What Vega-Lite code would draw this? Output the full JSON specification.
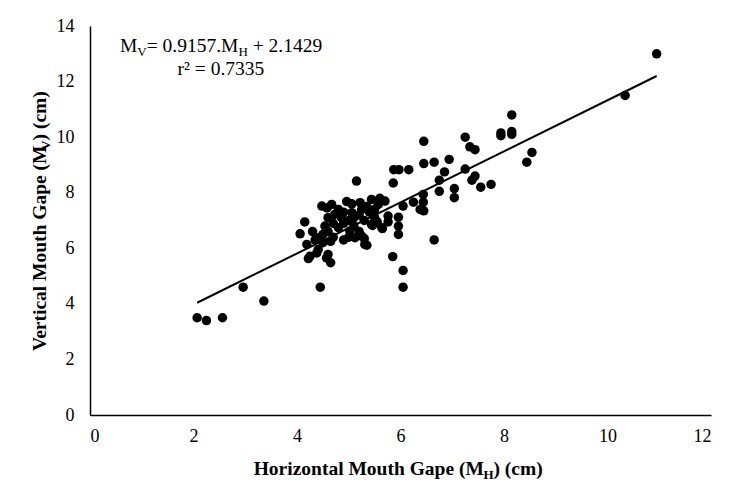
{
  "$schema": "https://vega.github.io/schema/vega-lite/v6.json",
  "width": 621,
  "height": 389,
  "autosize": {"type": "none"},
  "padding": {"left": 90, "top": 26, "right": 21, "bottom": 80},
  "background": "white",
  "config": {
    "view": {"stroke": null},
    "style": {"guide-label": {"font": "Liberation Serif", "fontSize": 18, "fill": "black"}},
    "axis": {
      "domainColor": "black",
      "domainWidth": 1.5,
      "ticks": false,
      "grid": false,
      "labelFont": "Liberation Serif",
      "labelFontSize": 18,
      "labelColor": "black",
      "title": null
    }
  },
  "datasets": {
    "points": [
      {"MH": 2.07, "MV": 3.5}, {"MH": 2.25, "MV": 3.4}, {"MH": 2.56, "MV": 3.5}, {"MH": 2.96, "MV": 4.6}, {"MH": 3.36, "MV": 4.1},
      {"MH": 4.45, "MV": 4.6}, {"MH": 5.85, "MV": 5.7}, {"MH": 6.05, "MV": 5.2}, {"MH": 6.05, "MV": 4.6}, {"MH": 6.65, "MV": 6.3},
      {"MH": 10.95, "MV": 13.0}, {"MH": 10.34, "MV": 11.5},
      {"MH": 8.15, "MV": 10.8}, {"MH": 7.94, "MV": 10.15}, {"MH": 7.94, "MV": 10.05}, {"MH": 8.15, "MV": 10.2}, {"MH": 8.15, "MV": 10.1},
      {"MH": 7.25, "MV": 10.0}, {"MH": 7.34, "MV": 9.65}, {"MH": 7.44, "MV": 9.55}, {"MH": 8.54, "MV": 9.45}, {"MH": 8.44, "MV": 9.1},
      {"MH": 7.25, "MV": 8.85}, {"MH": 7.44, "MV": 8.6}, {"MH": 7.38, "MV": 8.45}, {"MH": 7.55, "MV": 8.2}, {"MH": 7.75, "MV": 8.3},
      {"MH": 6.45, "MV": 9.85}, {"MH": 5.87, "MV": 8.83}, {"MH": 5.97, "MV": 8.83}, {"MH": 6.16, "MV": 8.83}, {"MH": 5.86, "MV": 8.35},
      {"MH": 6.45, "MV": 9.05}, {"MH": 6.65, "MV": 9.1}, {"MH": 6.94, "MV": 9.2}, {"MH": 6.85, "MV": 8.75}, {"MH": 6.75, "MV": 8.45},
      {"MH": 6.75, "MV": 8.05}, {"MH": 7.04, "MV": 8.15}, {"MH": 7.04, "MV": 7.82}, {"MH": 6.44, "MV": 7.94}, {"MH": 6.44, "MV": 7.66},
      {"MH": 6.38, "MV": 7.4}, {"MH": 6.45, "MV": 7.35}, {"MH": 6.25, "MV": 7.66}, {"MH": 6.05, "MV": 7.52}, {"MH": 5.96, "MV": 7.12},
      {"MH": 5.96, "MV": 6.8}, {"MH": 5.96, "MV": 6.5}, {"MH": 5.76, "MV": 7.16}, {"MH": 5.76, "MV": 6.95}, {"MH": 5.65, "MV": 6.71},
      {"MH": 5.46, "MV": 6.82}, {"MH": 5.35, "MV": 6.11}, {"MH": 5.25, "MV": 6.44}, {"MH": 5.15, "MV": 8.42},
      {"MH": 4.22, "MV": 5.63}, {"MH": 4.38, "MV": 5.83}, {"MH": 4.57, "MV": 5.65}, {"MH": 4.65, "MV": 5.48},
      {"MH": 4.15, "MV": 6.95}, {"MH": 4.06, "MV": 6.52}, {"MH": 4.48, "MV": 7.52}, {"MH": 4.58, "MV": 7.45}, {"MH": 4.67, "MV": 7.58},
      {"MH": 4.96, "MV": 7.68}, {"MH": 5.06, "MV": 7.6}, {"MH": 5.22, "MV": 7.64}, {"MH": 5.44, "MV": 7.76}, {"MH": 5.57, "MV": 7.58},
      {"MH": 5.64, "MV": 6.74}, {"MH": 5.44, "MV": 6.86}, {"MH": 5.31, "MV": 6.14}, {"MH": 5.12, "MV": 6.38}, {"MH": 4.6, "MV": 5.78},
      {"MH": 4.25, "MV": 5.71}, {"MH": 4.41, "MV": 5.96}, {"MH": 4.19, "MV": 6.14}, {"MH": 4.41, "MV": 6.38}, {"MH": 4.54, "MV": 6.8},
      {"MH": 4.73, "MV": 7.22}, {"MH": 5.06, "MV": 7.28}, {"MH": 5.25, "MV": 7.4}, {"MH": 4.8, "MV": 6.74}, {"MH": 5.02, "MV": 6.62},
      {"MH": 4.86, "MV": 7.1}, {"MH": 4.35, "MV": 6.3}, {"MH": 4.3, "MV": 6.6}, {"MH": 4.5, "MV": 6.5}, {"MH": 4.6, "MV": 6.6},
      {"MH": 4.7, "MV": 6.4}, {"MH": 4.9, "MV": 6.9}, {"MH": 5.0, "MV": 7.0}, {"MH": 5.1, "MV": 7.1}, {"MH": 5.2, "MV": 7.2},
      {"MH": 5.3, "MV": 7.0}, {"MH": 5.4, "MV": 7.3}, {"MH": 5.5, "MV": 7.4}, {"MH": 5.0, "MV": 6.4}, {"MH": 4.7, "MV": 6.9},
      {"MH": 4.8, "MV": 7.4}, {"MH": 4.9, "MV": 7.3}, {"MH": 5.35, "MV": 7.5}, {"MH": 5.5, "MV": 7.1}, {"MH": 5.2, "MV": 6.6},
      {"MH": 4.5, "MV": 6.2}, {"MH": 4.6, "MV": 7.1}, {"MH": 4.65, "MV": 6.25}, {"MH": 5.1, "MV": 6.8}, {"MH": 5.3, "MV": 6.35},
      {"MH": 4.9, "MV": 6.3}, {"MH": 5.55, "MV": 6.95}, {"MH": 5.6, "MV": 7.8}, {"MH": 5.7, "MV": 7.7}
    ],
    "fit": [
      {"MH": 2.07, "MV": 4.04},
      {"MH": 10.95, "MV": 12.2}
    ],
    "notes": [
      {"t": "M", "x": 0.58, "y": 13.07, "part": "eq"},
      {"t": "= 0.9157.M", "x": 1.096, "y": 13.07, "part": "eq"},
      {"t": "+ 2.1429", "x": 3.144, "y": 13.07, "part": "eq"},
      {"t": "r² = 0.7335", "x": 1.693, "y": 12.22, "part": "eq"},
      {"t": "V", "x": 0.914, "y": 13.07, "part": "eqsub"},
      {"t": "H", "x": 2.868, "y": 13.07, "part": "eqsub"},
      {"t": "Horizontal Mouth Gape (M", "x": 3.163, "y": -2.148, "part": "xt"},
      {"t": ") (cm)", "x": 7.797, "y": -2.148, "part": "xt"},
      {"t": "H", "x": 7.602, "y": -2.148, "part": "xtsub"},
      {"t": "Vertical Mouth Gape (M", "x": -0.85, "y": 2.3, "part": "yt"},
      {"t": ") (cm)", "x": -0.85, "y": 9.88, "part": "yt"},
      {"t": "V", "x": -0.85, "y": 9.54, "part": "ytsub"}
    ]
  },
  "layer": [
    {
      "data": {"name": "points"},
      "mark": {"type": "circle", "size": 90, "color": "black", "opacity": 1},
      "encoding": {
        "x": {"field": "MH", "type": "quantitative", "scale": {"domain": [0, 12]}, "axis": {"values": [0, 2, 4, 6, 8, 10, 12], "labelPadding": 12, "labelFont": "Times New Roman", "labelFontSize": 18, "labelColor": "black"}},
        "y": {"field": "MV", "type": "quantitative", "scale": {"domain": [0, 14]}, "axis": {"values": [0, 2, 4, 6, 8, 10, 12, 14], "labelPadding": 16, "labelFont": "Times New Roman", "labelFontSize": 18, "labelColor": "black"}}
      }
    },
    {
      "data": {"name": "fit"},
      "mark": {"type": "line", "color": "black", "strokeWidth": 2},
      "encoding": {
        "x": {"field": "MH", "type": "quantitative", "scale": {"domain": [0, 12]}},
        "y": {"field": "MV", "type": "quantitative", "scale": {"domain": [0, 14]}}
      }
    },
    {
      "data": {"name": "notes"},
      "transform": [{"filter": "datum.part === 'eq'"}],
      "mark": {"type": "text", "font": "Liberation Serif", "fontSize": 19.5, "align": "left", "baseline": "alphabetic", "color": "black"},
      "encoding": {
        "x": {"field": "x", "type": "quantitative", "scale": {"domain": [0, 12]}},
        "y": {"field": "y", "type": "quantitative", "scale": {"domain": [0, 14]}},
        "text": {"field": "t"}
      }
    },
    {
      "data": {"name": "notes"},
      "transform": [{"filter": "datum.part === 'eqsub'"}],
      "mark": {"type": "text", "font": "Liberation Serif", "fontSize": 13, "align": "left", "baseline": "alphabetic", "dy": 4, "color": "black"},
      "encoding": {
        "x": {"field": "x", "type": "quantitative", "scale": {"domain": [0, 12]}},
        "y": {"field": "y", "type": "quantitative", "scale": {"domain": [0, 14]}},
        "text": {"field": "t"}
      }
    },
    {
      "data": {"name": "notes"},
      "transform": [{"filter": "datum.part === 'xt'"}],
      "mark": {"type": "text", "font": "Liberation Serif", "fontSize": 19.5, "fontWeight": "bold", "align": "left", "baseline": "alphabetic", "color": "black"},
      "encoding": {
        "x": {"field": "x", "type": "quantitative", "scale": {"domain": [0, 12]}},
        "y": {"field": "y", "type": "quantitative", "scale": {"domain": [0, 14]}},
        "text": {"field": "t"}
      }
    },
    {
      "data": {"name": "notes"},
      "transform": [{"filter": "datum.part === 'xtsub'"}],
      "mark": {"type": "text", "font": "Liberation Serif", "fontSize": 13, "fontWeight": "bold", "align": "left", "baseline": "alphabetic", "dy": 4, "color": "black"},
      "encoding": {
        "x": {"field": "x", "type": "quantitative", "scale": {"domain": [0, 12]}},
        "y": {"field": "y", "type": "quantitative", "scale": {"domain": [0, 14]}},
        "text": {"field": "t"}
      }
    },
    {
      "data": {"name": "notes"},
      "transform": [{"filter": "datum.part === 'yt'"}],
      "mark": {"type": "text", "font": "Liberation Serif", "fontSize": 19.5, "fontWeight": "bold", "align": "left", "baseline": "alphabetic", "angle": 270, "color": "black"},
      "encoding": {
        "x": {"field": "x", "type": "quantitative", "scale": {"domain": [0, 12]}},
        "y": {"field": "y", "type": "quantitative", "scale": {"domain": [0, 14]}},
        "text": {"field": "t"}
      }
    },
    {
      "data": {"name": "notes"},
      "transform": [{"filter": "datum.part === 'ytsub'"}],
      "mark": {"type": "text", "font": "Liberation Serif", "fontSize": 13, "fontWeight": "bold", "align": "left", "baseline": "alphabetic", "angle": 270, "dy": 4, "color": "black"},
      "encoding": {
        "x": {"field": "x", "type": "quantitative", "scale": {"domain": [0, 12]}},
        "y": {"field": "y", "type": "quantitative", "scale": {"domain": [0, 14]}},
        "text": {"field": "t"}
      }
    }
  ]
}
